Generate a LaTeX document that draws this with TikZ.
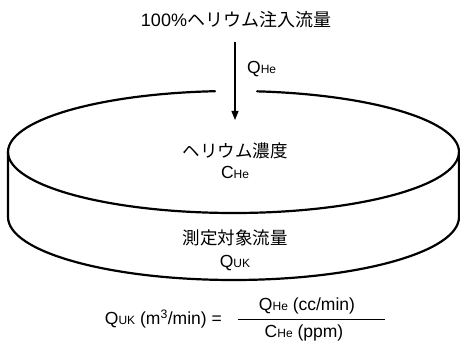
\documentclass[tikz,border=0pt]{standalone}
\usepackage{fontspec}
\setmainfont{Liberation Sans}
\newfontfamily\jp{Noto Sans CJK JP}
\usetikzlibrary{arrows.meta}
\newcommand\smc[1]{{\fontsize{12}{12}\selectfont #1}}
\begin{document}
\begin{tikzpicture}[x=1pt,y=-1pt,
  font=\fontsize{17.5}{20}\selectfont,
  txt/.style={inner sep=0pt, anchor=center},
  vessel/.style={line width=2.2pt, line join=round, line cap=round},
  flow/.style={line width=1.2pt, -{Triangle[length=9pt,width=7pt]}},
  fracline/.style={line width=1pt}]
\useasboundingbox (0,0) rectangle (460,344);
\coordinate (topc) at (233.5,152);
\coordinate (botc) at (233.5,217);
% top ellipse with gap for the arrow
\draw[vessel] ([shift={(276:225.5 and 61)}]topc) arc[start angle=276, end angle=625.3, x radius=225.5, y radius=61];
% sides and front of bottom
\draw[vessel] ([shift={(180:225.5 and 61)}]topc) -- ([shift={(180:225.5 and 63)}]botc)
  arc[start angle=180, end angle=0, x radius=225.5, y radius=63] -- ([shift={(0:225.5 and 61)}]topc);
% title and arrow
\node[txt, font=\fontsize{18}{20}\selectfont] (title) at (236,20) {100\%{\jp ヘリウム注入流量}};
\coordinate (arrS) at (235,42);
\coordinate (arrE) at (235,120);
\draw[flow] (arrS) -- (arrE);
\node[txt, anchor=west] (qhe) at (247,69) {Q\smc{He}};
% inside labels
\node[txt] (conc) at (235,151) {\jp ヘリウム濃度};
\node[txt] (che) at (235,172) {C\smc{He}};
\node[txt] (meas) at (235,238) {\jp 測定対象流量};
\node[txt] (quk) at (235,263) {Q\smc{UK}};
% formula
\node[txt, anchor=east] (lhs) at (222,319) {Q\smc{UK} (m\textsuperscript{3}/min) =};
\coordinate (fl) at (238,319);
\coordinate (fr) at (385,319);
\draw[fracline] (fl) -- (fr);
\node[txt] (num) at (307,306) {Q\smc{He} (cc/min)};
\node[txt] (den) at (304,333) {C\smc{He} (ppm)};
\end{tikzpicture}
\end{document}
